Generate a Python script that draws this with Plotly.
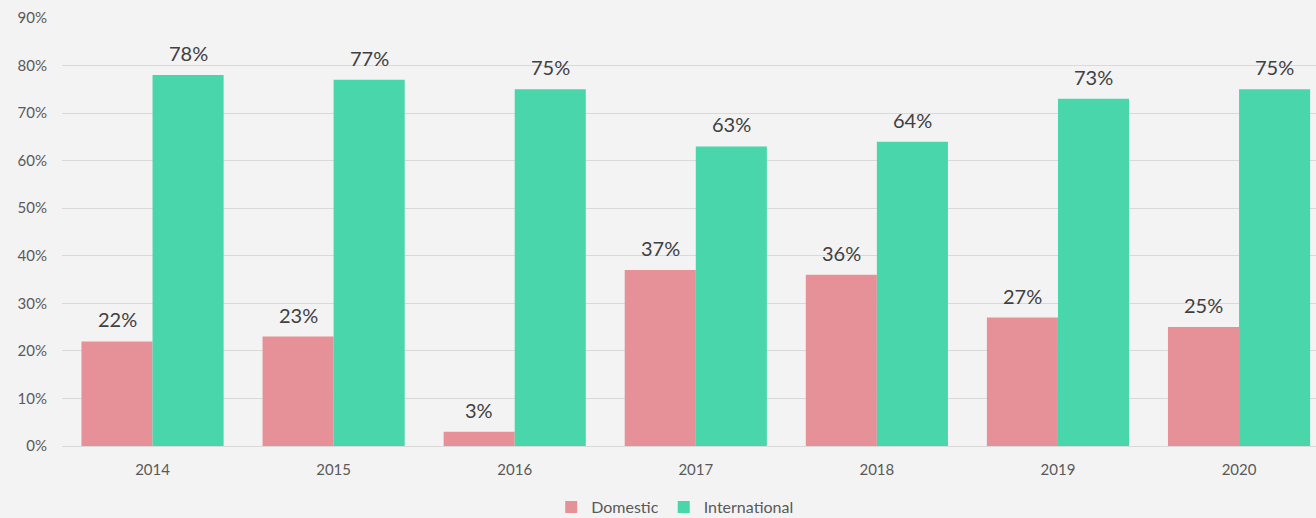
import plotly.graph_objects as go

years = ["2014", "2015", "2016", "2017", "2018", "2019", "2020"]
domestic = [0.22, 0.23, 0.03, 0.37, 0.36, 0.27, 0.25]
international = [0.78, 0.77, 0.75, 0.63, 0.64, 0.73, 0.75]

fig = go.Figure()
fig.add_trace(go.Bar(
    x=years, y=domestic, name="Domestic",
    marker=dict(color="#e69198", line=dict(width=0)),
))
fig.add_trace(go.Bar(
    x=years, y=international, name="International",
    marker=dict(color="#49d6aa", line=dict(width=0)),
))

# data labels above bars
for series, shift in ((domestic, -35.5), (international, 35.5)):
    for i, v in enumerate(series):
        fig.add_annotation(
            x=i, y=v, text=f"{round(v * 100)}%", showarrow=False,
            xshift=shift, yshift=22, yanchor="middle",
            font=dict(size=20, color="#404040"),
        )

fig.update_layout(
    width=1316, height=518,
    margin=dict(l=62, r=0, t=18, b=72),
    paper_bgcolor="#f3f3f3", plot_bgcolor="#f3f3f3",
    font=dict(family="Lato, Open Sans, sans-serif", color="#595959"),
    barmode="group", bargap=0.215, bargroupgap=0,
    showlegend=True,
    legend=dict(orientation="h", x=0.489, xanchor="center",
                yref="container", y=0.021, yanchor="middle",
                font=dict(size=16, color="#595959"), bgcolor="rgba(0,0,0,0)",
                itemwidth=30, traceorder="normal"),
    xaxis=dict(type="category", range=[-0.5, 6.425], showgrid=False, showline=True,
               linecolor="#d9d9d9", linewidth=1, ticks="",
               tickfont=dict(size=15, color="#595959"), ticklabelstandoff=10),
    yaxis=dict(range=[0, 0.9], dtick=0.1, tickformat=".0%", showgrid=True,
               gridcolor="#d9d9d9", gridwidth=1, zeroline=False, showline=False,
               tickfont=dict(size=15, color="#595959"), ticklabelstandoff=14),
)

fig.write_html("out.html", config={"displayModeBar": False},
               post_script="document.body.style.margin='0';document.body.style.background='#f3f3f3';")
